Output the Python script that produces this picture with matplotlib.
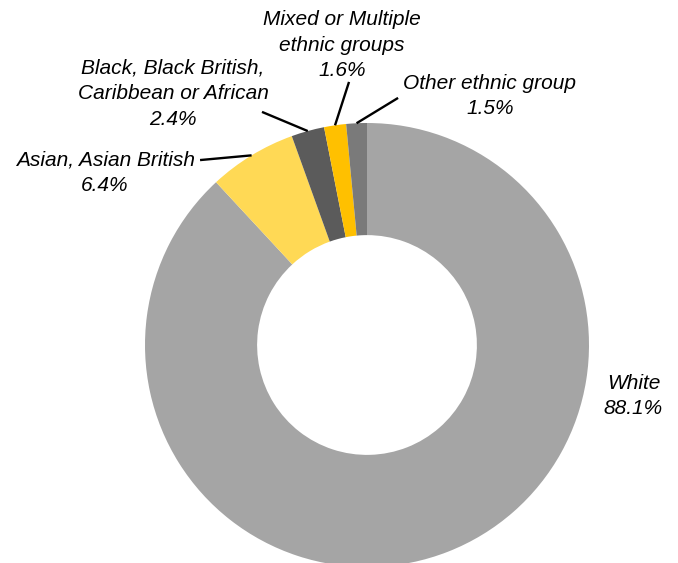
import numpy as np
import matplotlib
matplotlib.use("Agg")
import matplotlib.pyplot as plt

# data, clockwise from 12 o'clock
groups = ["White", "Asian, Asian British", "Black, Black British,\nCaribbean or African",
          "Mixed or Multiple\nethnic groups", "Other ethnic group"]
shares = [88.1, 6.4, 2.4, 1.6, 1.5]
colours = ["#a5a5a5", "#ffd955", "#5b5b5b", "#ffc000", "#7a7a7a"]

# label layout (data units, radius 1 = outer edge of ring)
label_pos = [(1.20, -0.23), (-1.18, 0.775), (-0.874, 1.131), (-0.113, 1.351), (0.554, 1.122)]
leader_end = [None, (-0.752, 0.833), (-0.473, 1.05), (-0.081, 1.185), (0.14, 1.113)]

plt.rcParams["font.family"] = ["Liberation Sans", "DejaVu Sans"]

W, H = 678, 563
fig = plt.figure(figsize=(W / 100, H / 100), dpi=100)
cx, cy, r = 367, 345, 222
ax = fig.add_axes([(cx - r) / W, (H - cy - r) / H, 2 * r / W, 2 * r / H])

wedges, _ = ax.pie(shares, colors=colours, startangle=90, counterclock=False,
                   radius=1, wedgeprops=dict(width=0.505, edgecolor="none"),
                   frame=True)
ax.set_xlim(-1, 1)
ax.set_ylim(-1, 1)
ax.set_aspect("auto")
ax.axis("off")

for i, w in enumerate(wedges):
    txt = "%s\n%.1f%%" % (groups[i], shares[i])
    lx, ly = label_pos[i]
    ax.text(lx, ly, txt, ha="center", va="center", fontsize=15, style="italic",
            linespacing=1.45, clip_on=False)
    if leader_end[i] is not None:
        ang = np.deg2rad((w.theta1 + w.theta2) / 2)
        x0, y0 = 1.0 * np.cos(ang), 1.0 * np.sin(ang)
        x1, y1 = leader_end[i]
        ax.plot([x0, x1], [y0, y1], color="black", lw=1.7, clip_on=False,
                solid_capstyle="butt")

fig.savefig("out.png", dpi=100)
